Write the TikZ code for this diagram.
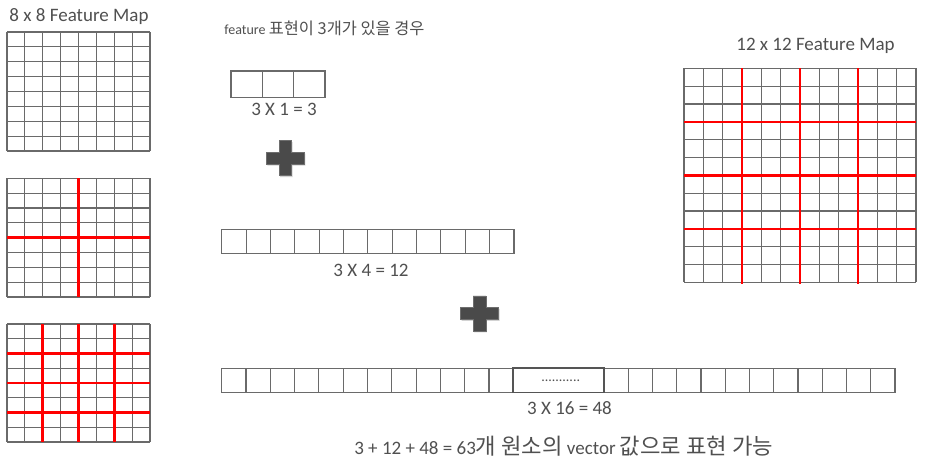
\documentclass[tikz,border=0pt]{standalone}
\usepackage{fontspec}
\setmainfont{Carlito}
\newfontfamily\kr[Scale=1.17]{Noto Sans CJK KR}
\usetikzlibrary{shadows}
\definecolor{txt}{HTML}{505050}
\definecolor{gridc}{HTML}{6A6A6A}
\definecolor{plusc}{HTML}{4A4A4A}
\definecolor{plusedge}{HTML}{6E6E6E}
\tikzset{
  gridline/.style={draw=gridc,line width=1.1pt},
  redline/.style={draw=red,line width=2.6pt},
  cellline/.style={draw=gridc,line width=1.1pt},
  bigtitle/.style={text=txt,font=\fontsize{19}{21}\selectfont,inner sep=0pt},
  label/.style={text=txt,font=\fontsize{19}{21}\selectfont,inner sep=0pt},
  smalltitle/.style={text=txt,font=\fontsize{14}{16}\selectfont,inner sep=0pt},
  plusbox/.style={fill=plusc,draw=plusedge,line width=0.6pt,drop shadow={shadow xshift=1pt,shadow yshift=-1.5pt,opacity=0.35}}
}
\newcommand\fmgrid[6]{% x0 x1 y0 y1 ncols nrows
  \foreach \i in {0,...,#5} \draw[gridline] ({#1+\i*(#2-#1)/#5},#3) -- ({#1+\i*(#2-#1)/#5},#4);
  \foreach \j in {0,...,#6} \draw[gridline] (#1,{#3+\j*(#4-#3)/#6}) -- (#2,{#3+\j*(#4-#3)/#6});
}
\newcommand\cellstrip[5]{% x0 x1 y0 y1 n
  \draw[cellline] (#1,#3) rectangle (#2,#4);
  \foreach \i in {1,...,#5} \draw[cellline] ({#1+\i*(#2-#1)/#5},#3) -- ({#1+\i*(#2-#1)/#5},#4);
}
\newcommand\plusmark[2]{% cx cy
  \path[plusbox] ({#1-6.3},{#2-17.5}) -- ({#1+6.3},{#2-17.5}) -- ({#1+6.3},{#2-6}) -- ({#1+19},{#2-6})
    -- ({#1+19},{#2+6}) -- ({#1+6.3},{#2+6}) -- ({#1+6.3},{#2+17.5}) -- ({#1-6.3},{#2+17.5})
    -- ({#1-6.3},{#2+6}) -- ({#1-19},{#2+6}) -- ({#1-19},{#2-6}) -- ({#1-6.3},{#2-6}) -- cycle;
}
\begin{document}
\begin{tikzpicture}[x=1pt,y=-1pt]
\useasboundingbox[fill=white] (0,0) rectangle (928,467);

% ---- left feature maps ----
\node[bigtitle] (t8) at (79,17) {8 x 8 Feature Map};
\fmgrid{7}{150}{32}{151}{8}{8}

\fmgrid{7}{150}{178.3}{297}{8}{8}
\draw[redline] ({7+4*143/8},178.3) -- ({7+4*143/8},297);
\draw[redline] (7,{178.3+4*118.7/8}) -- (150,{178.3+4*118.7/8});

\fmgrid{7}{150}{324}{442}{8}{8}
\foreach \k in {2,4,6} {
  \draw[redline] ({7+\k*143/8},324) -- ({7+\k*143/8},442);
  \draw[redline] (7,{324+\k*118/8}) -- (150,{324+\k*118/8});
}

% ---- right feature map ----
\node[bigtitle] (t12) at (815.5,46) {12 x 12 Feature Map};
\fmgrid{684}{916}{68.3}{282.3}{12}{12}
\foreach \k in {3,6,9} {
  \draw[redline] ({684+\k*232/12},68.3) -- ({684+\k*232/12},283.5);
  \draw[redline] (684,{68.3+\k*214/12}) -- (916,{68.3+\k*214/12});
}

% ---- middle ----
\node[smalltitle] (cap) at (324.5,28) {feature {\kr 표현이 3개가 있을 경우}};

\cellstrip{231}{325}{71}{97.3}{3}
\node[label] (l1) at (284,109) {3 X 1 = 3};

\plusmark{285.3}{158}

\cellstrip{221.7}{514}{229.3}{253.3}{12}
\node[label] (l2) at (371,270) {3 X 4 = 12};

\plusmark{479.5}{313.3}

\cellstrip{221.7}{513.3}{368.3}{392.5}{12}
\cellstrip{604}{895}{368.3}{392.5}{12}
\draw[draw=gridc!80!black,line width=1.8pt] (513.3,368.3) rectangle (604,392.5);
\node[smalltitle] (dots) at (560.7,380.5) {...........};
\node[label] (l3) at (569.5,408) {3 X 16 = 48};

\node[label] (sum) at (563.7,446.5) {3 + 12 + 48 = 63{\kr 개 원소의} vector {\kr 값으로 표현 가능}};
\end{tikzpicture}
\end{document}
